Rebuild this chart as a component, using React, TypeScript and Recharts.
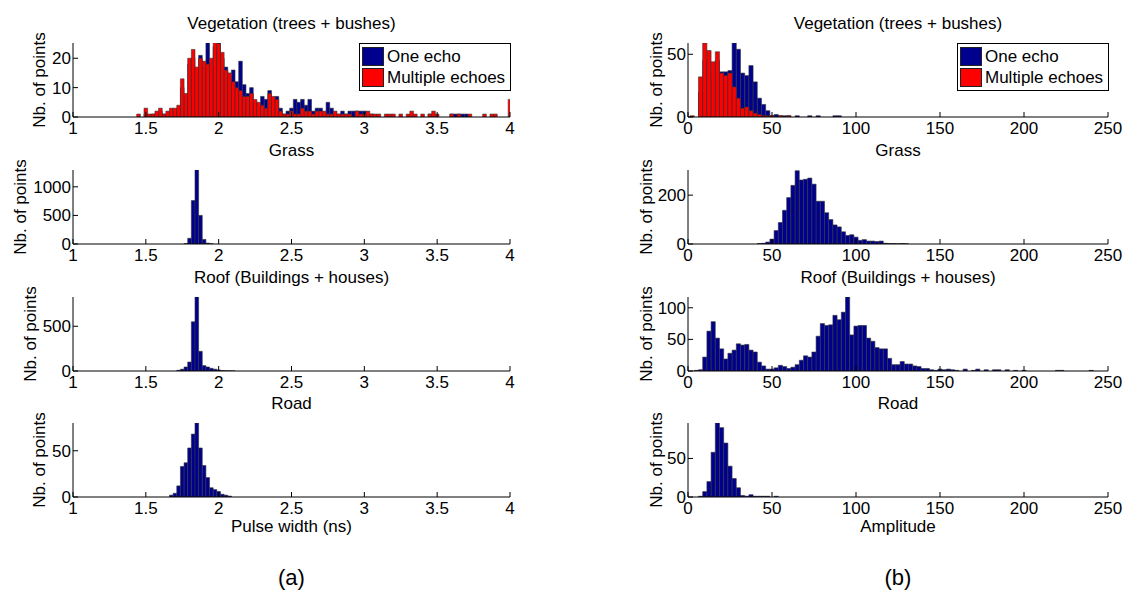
import React from "react";
import { BarChart, Bar, XAxis, YAxis } from "recharts";

const BLUE = "#00008f";
const RED = "#ff0000";
const FONT = "Arial, 'Liberation Sans', Helvetica, sans-serif";

// x ticks of the two columns
const pulseTicks = [1, 1.5, 2, 2.5, 3, 3.5, 4];
const ampTicks = [0, 50, 100, 150, 200, 250];

// histogram bin centres
const pulseStep = 0.025;
const pulseBins = Array.from({ length: 121 }, (_, i) => +(1 + i * pulseStep).toFixed(3));
const ampStep = 2.5;
const ampBins = Array.from({ length: 101 }, (_, i) => i * ampStep);

// ---- (a) pulse width, counts start at the given bin ----
const vegPulseFrom = 1.45;
const vegPulseOne = [
  0, 0, 1, 0, 1, 1, 2, 1, 1, 2,
  2, 3, 10, 7, 18, 20, 16, 21, 17, 26,
  16, 24, 26, 20, 17, 13, 16, 12, 19, 11,
  8, 10, 5, 4, 7, 6, 9, 6, 7, 3,
  1, 2, 3, 6, 5, 6, 4, 6, 2, 3,
  3, 1, 5, 3, 1, 1, 2, 1, 2, 2,
  2, 2, 2, 1, 1, 0, 0, 0, 0, 0,
  0, 0, 0, 0, 0, 0, 0, 0, 0, 0,
  1, 0, 0, 0, 0, 0, 1, 1, 1, 1,
  1, 0, 0, 0, 0, 0, 0, 0, 0, 0,
  0, 0, 0,
];
const vegPulseMulti = [
  1, 0, 3, 1, 1, 2, 3, 1, 2, 3,
  3, 4, 13, 8, 20, 23, 17, 20, 19, 18,
  20, 26, 25, 22, 16, 15, 12, 10, 9, 7,
  7, 8, 6, 5, 4, 3, 8, 7, 6, 2,
  1, 1, 2, 1, 1, 3, 2, 2, 1, 2,
  2, 2, 1, 1, 2, 1, 1, 1, 1, 0,
  2, 1, 1, 2, 1, 1, 1, 0, 1, 1,
  1, 0, 1, 0, 1, 2, 1, 0, 1, 0,
  1, 2, 1, 0, 0, 0, 1, 0, 1, 0,
  0, 1, 0, 0, 0, 1, 0, 1, 1, 0,
  0, 0, 6,
];
const grassPulseFrom = 1.775;
const grassPulseOne = [8, 100, 760, 1300, 500, 80, 15, 4];
const roofPulseFrom = 1.725;
const roofPulseOne = [8, 20, 45, 100, 550, 840, 220, 60, 45, 30, 20, 12, 5, 3, 2, 1];
const roadPulseFrom = 1.675;
const roadPulseOne = [2, 4, 12, 33, 37, 53, 68, 80, 53, 34, 21, 10, 8, 6, 3, 2, 1];

// ---- (b) amplitude ----
const vegAmpFrom = 2.5;
const vegAmpOne = [
  0, 0, 20, 45, 40, 30, 45, 36, 36, 37,
  59, 54, 35, 33, 41, 28, 15, 10, 5, 1,
  2, 1, 1, 1, 0, 1, 0, 0, 1, 0,
  1, 0, 0, 0, 1, 1,
];
const vegAmpMulti = [
  1, 0, 32, 59, 53, 44, 52, 35, 33, 35,
  24, 15, 7, 8, 5, 3, 2, 1, 1, 1,
  0, 1, 0, 1,
];
const grassAmpFrom = 42.5;
const grassAmpOne = [
  2, 3, 8, 20, 55, 88, 138, 190, 240, 300,
  262, 265, 270, 245, 175, 175, 128, 100, 78, 70,
  50, 35, 38, 28, 15, 18, 12, 12, 10, 12,
  3, 2, 2, 1, 2, 1,
];
const roofAmpFrom = 5;
const roofAmpOne = [
  1, 2, 22, 63, 78, 52, 35, 19, 28, 33,
  43, 41, 42, 33, 30, 14, 8, 3, 3, 5,
  9, 7, 4, 6, 10, 17, 24, 22, 30, 55,
  75, 72, 73, 88, 81, 93, 117, 57, 71, 72,
  72, 52, 47, 37, 35, 35, 20, 10, 10, 15,
  11, 11, 8, 7, 4, 4, 2, 1, 3, 2,
  3, 2, 1, 0, 3, 0, 1, 3, 0, 2,
  0, 2, 2, 0, 2, 0, 1, 0, 1, 0,
  0, 0, 0, 0, 0, 0, 1, 1, 0, 0,
  0, 0, 0, 0, 1,
];
const roadAmpFrom = 7.5;
const roadAmpOne = [1, 7, 20, 58, 96, 90, 70, 40, 24, 12, 2, 1, 3, 1, 1, 1, 1, 0, 1];

type Series = { key: string; name: string; color: string; from: number; values: number[] };
type Column = { chartLeft: number; plotLeft: number; plotRight: number };

const leftCol: Column = { chartLeft: 0, plotLeft: 73, plotRight: 510 };
const rightCol: Column = { chartLeft: 600, plotLeft: 688, plotRight: 1108 };
const plotTops = [43, 170, 297, 423];
const PLOT_H = 74;

function buildRows(bins: number[], step: number, series: Series[]) {
  return bins.map((x) => {
    const row: Record<string, number> = { x };
    series.forEach((s) => {
      const i = Math.round((x - s.from) / step);
      row[s.key] = i >= 0 && i < s.values.length ? s.values[i] : 0;
    });
    return row;
  });
}

const tickStyle = { fill: "#000", fontSize: 17, fontFamily: FONT };

function Panel(props: {
  col: Column;
  plotTop: number;
  title: string;
  bins: number[];
  step: number;
  series: Series[];
  xDomain: [number, number];
  xTicks: number[];
  yMax: number;
  yTicks: number[];
  yLabelAt: number;
  xLabel?: string;
  legend?: boolean;
}) {
  const { col, plotTop, series } = props;
  const data = buildRows(props.bins, props.step, series);
  const plotW = col.plotRight - col.plotLeft;
  const width = col.plotRight - col.chartLeft + 22;
  const barSize = plotW / (props.bins.length - 1) - 0.02;
  return (
    <>
      <div
        style={{
          position: "absolute",
          left: col.plotLeft,
          width: plotW,
          top: plotTop - 29,
          lineHeight: "20px",
          fontSize: 17,
          textAlign: "center",
        }}
      >
        {props.title}
      </div>
      <div style={{ position: "absolute", left: col.chartLeft, top: plotTop - 10 }}>
        <BarChart
          width={width}
          height={10 + PLOT_H + 30}
          data={data}
          margin={{ top: 10, right: 22, bottom: 0, left: 0 }}
          barCategoryGap={0}
        >
          {series.map((s, i) => (
            <Bar
              key={s.key}
              dataKey={s.key}
              name={s.name}
              xAxisId={i === 0 ? "bottom" : "top"}
              yAxisId="left"
              fill={s.color}
              stroke="#333"
              strokeWidth={0.6}
              barSize={barSize}
              isAnimationActive={false}
            />
          ))}
          <XAxis
            xAxisId="bottom"
            dataKey="x"
            type="number"
            domain={props.xDomain}
            ticks={props.xTicks}
            interval={0}
            allowDataOverflow
            height={30}
            tickSize={-5}
            tickMargin={10}
            tick={tickStyle}
            stroke="#000"
          />
          <XAxis
            xAxisId="top"
            orientation="top"
            dataKey="x"
            type="number"
            domain={props.xDomain}
            ticks={props.xTicks}
            interval={0}
            allowDataOverflow
            height={0}
            tickSize={-5}
            tick={false}
            stroke="#000"
          />
          <YAxis
            yAxisId="left"
            type="number"
            domain={[0, props.yMax]}
            ticks={props.yTicks}
            interval={0}
            allowDataOverflow
            width={col.plotLeft - col.chartLeft}
            tickSize={-5}
            tickMargin={7}
            tick={tickStyle}
            stroke="#000"
            label={{
              value: "Nb. of points",
              angle: -90,
              position: "insideLeft",
              offset: props.yLabelAt - col.chartLeft,
              style: { textAnchor: "middle", fill: "#000", fontSize: 17, fontFamily: FONT },
            }}
          />
          <YAxis
            yAxisId="right"
            orientation="right"
            type="number"
            domain={[0, props.yMax]}
            ticks={props.yTicks}
            interval={0}
            allowDataOverflow
            width={0}
            tickSize={-5}
            tick={false}
            stroke="#000"
          />
        </BarChart>
      </div>
      {props.legend && (
        <div
          style={{
            position: "absolute",
            left: col.plotRight - 151,
            top: plotTop,
            width: 150,
            border: "1.5px solid #000",
            background: "#fff",
            fontSize: 17,
            padding: "2px 0",
          }}
        >
          {series.map((s) => (
            <div key={s.key} style={{ display: "flex", alignItems: "center", height: 21 }}>
              <span
                style={{
                  display: "inline-block",
                  width: 22,
                  height: 19,
                  background: s.color,
                  border: "1px solid #222",
                  boxSizing: "border-box",
                  margin: "0 3px 0 2px",
                }}
              />
              <span>{s.name}</span>
            </div>
          ))}
        </div>
      )}
      {props.xLabel && (
        <div
          style={{
            position: "absolute",
            left: col.plotLeft,
            width: plotW,
            top: plotTop + PLOT_H + 20,
            lineHeight: "20px",
            fontSize: 17,
            textAlign: "center",
          }}
        >
          {props.xLabel}
        </div>
      )}
    </>
  );
}

const one = (from: number, values: number[]): Series => ({ key: "one", name: "One echo", color: BLUE, from, values });
const multi = (from: number, values: number[]): Series => ({
  key: "multi",
  name: "Multiple echoes",
  color: RED,
  from,
  values,
});

export default function App() {
  const pulse = { col: leftCol, bins: pulseBins, step: pulseStep, xDomain: [1, 4] as [number, number], xTicks: pulseTicks };
  const amp = { col: rightCol, bins: ampBins, step: ampStep, xDomain: [0, 250] as [number, number], xTicks: ampTicks };
  return (
    <div
      style={{
        position: "absolute",
        left: 0,
        top: 0,
        width: 1147,
        height: 590,
        background: "#fff",
        fontFamily: FONT,
        color: "#000",
      }}
    >
      <Panel {...pulse} plotTop={plotTops[0]} title="Vegetation (trees + bushes)" legend
        series={[one(vegPulseFrom, vegPulseOne), multi(vegPulseFrom, vegPulseMulti)]}
        yMax={25.2} yTicks={[0, 10, 20]} yLabelAt={39} />
      <Panel {...pulse} plotTop={plotTops[1]} title="Grass"
        series={[one(grassPulseFrom, grassPulseOne)]} yMax={1294} yTicks={[0, 500, 1000]} yLabelAt={20} />
      <Panel {...pulse} plotTop={plotTops[2]} title="Roof (Buildings + houses)"
        series={[one(roofPulseFrom, roofPulseOne)]} yMax={827} yTicks={[0, 500]} yLabelAt={30} />
      <Panel {...pulse} plotTop={plotTops[3]} title="Road" xLabel="Pulse width (ns)"
        series={[one(roadPulseFrom, roadPulseOne)]} yMax={80} yTicks={[0, 50]} yLabelAt={39} />

      <Panel {...amp} plotTop={plotTops[0]} title="Vegetation (trees + bushes)" legend
        series={[one(vegAmpFrom, vegAmpOne), multi(vegAmpFrom, vegAmpMulti)]}
        yMax={59} yTicks={[0, 50]} yLabelAt={656} />
      <Panel {...amp} plotTop={plotTops[1]} title="Grass"
        series={[one(grassAmpFrom, grassAmpOne)]} yMax={303} yTicks={[0, 200]} yLabelAt={646} />
      <Panel {...amp} plotTop={plotTops[2]} title="Roof (Buildings + houses)"
        series={[one(roofAmpFrom, roofAmpOne)]} yMax={117} yTicks={[0, 50, 100]} yLabelAt={646} />
      <Panel {...amp} plotTop={plotTops[3]} title="Road" xLabel="Amplitude"
        series={[one(roadAmpFrom, roadAmpOne)]} yMax={96} yTicks={[0, 50]} yLabelAt={656} />

      <div style={{ position: "absolute", left: 73, width: 437, top: 565, fontSize: 22, lineHeight: "26px", textAlign: "center" }}>
        (a)
      </div>
      <div style={{ position: "absolute", left: 688, width: 420, top: 565, fontSize: 22, lineHeight: "26px", textAlign: "center" }}>
        (b)
      </div>
    </div>
  );
}
